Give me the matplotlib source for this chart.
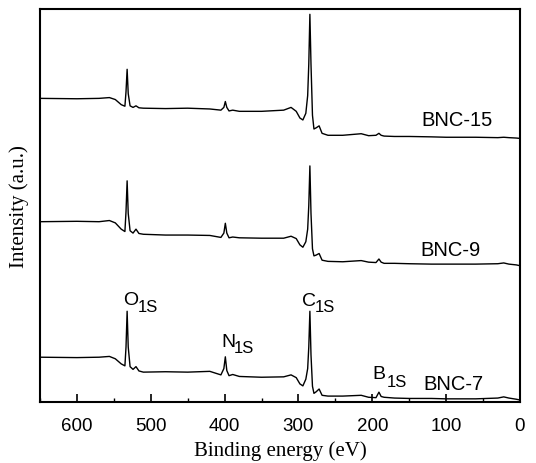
import matplotlib
matplotlib.use('Agg')
import matplotlib.pyplot as plt
from matplotlib.ticker import MultipleLocator

## Survey spectra (offset traces, arbitrary units)
energy = [650, 600, 570, 556, 548, 540, 535, 533.5, 532, 530.5, 528, 524, 520, 516, 510,
          480, 450, 420, 405, 401, 399, 397, 394, 389, 380, 350, 320, 310, 303, 298,
          294, 290, 287.5, 286, 284.5, 283, 281, 279, 276, 272, 268, 260, 240, 215, 205,
          195, 191, 188, 184, 170, 150, 120, 100, 60, 30, 22, 15, 5, 0]

bnc7 = [11.4, 11.3, 11.4, 11.6, 11.0, 9.7, 9.2, 14.0, 23.1, 14.0, 9.0, 8.3, 9.0, 7.9, 7.6,
        7.7, 7.6, 7.8, 6.9, 8.5, 11.5, 8.0, 6.7, 7.0, 6.5, 6.3, 6.4, 6.9, 6.2, 4.6,
        4.1, 5.8, 8.5, 14.0, 23.1, 12.0, 4.0, 2.2, 2.6, 3.3, 1.7, 1.5, 1.5, 1.7, 1.2,
        1.1, 2.5, 1.4, 1.2, 1.0, 0.9, 0.9, 0.8, 0.8, 1.0, 1.3, 1.0, 0.7, 0.5]

bnc9 = [45.9, 46.0, 45.9, 46.2, 45.6, 44.0, 43.4, 48.5, 56.3, 48.0, 43.6, 43.0, 44.0, 42.9, 42.7,
        42.5, 42.5, 42.4, 41.9, 43.0, 45.5, 43.0, 41.8, 42.0, 41.8, 41.7, 41.7, 42.2, 41.6, 40.0,
        39.4, 40.8, 44.0, 50.0, 60.1, 48.0, 39.0, 37.2, 37.4, 37.8, 36.1, 35.8, 35.7, 36.0, 35.6,
        35.5, 36.4, 35.6, 35.3, 35.3, 35.2, 35.1, 35.1, 35.1, 35.2, 35.4, 35.1, 34.9, 34.7]

bnc15 = [77.3, 77.2, 77.3, 77.5, 77.0, 75.7, 75.3, 79.0, 84.7, 78.5, 75.4, 75.0, 75.4, 74.9, 74.8,
         74.7, 74.8, 74.6, 74.3, 75.0, 76.5, 75.0, 74.1, 74.3, 74.0, 74.0, 74.3, 75.0, 74.0, 72.3,
         71.8, 73.5, 78.0, 86.0, 98.7, 86.0, 73.0, 69.5, 69.8, 70.3, 68.4, 67.9, 67.9, 68.3, 67.8,
         67.9, 68.4, 67.9, 67.7, 67.6, 67.6, 67.5, 67.4, 67.4, 67.3, 67.4, 67.3, 67.2, 67.1]

sample_names = ['BNC-15', 'BNC-9', 'BNC-7']
peak_elements = ['O', 'N', 'C', 'B']
peak_sub = '1S'

fig = plt.figure(figsize=(5.36, 4.64), dpi=100)
ax = fig.add_axes([0.0746, 0.1315, 0.8955, 0.8465])

for y in (bnc7, bnc9, bnc15):
    ax.plot(energy, y, color='black', lw=1.0)

ax.set_xlim(650, 0)
ax.set_ylim(0, 100)
ax.xaxis.set_major_locator(MultipleLocator(100))
ax.xaxis.set_minor_locator(MultipleLocator(50))
ax.set_yticks([])
ax.tick_params(axis='x', which='major', direction='in', length=5.5, width=1.2,
               labelsize=13.5, pad=10.5, top=False)
ax.tick_params(axis='x', which='minor', direction='in', length=3, width=1.0, top=False)
for lab in ax.get_xticklabels():
    lab.set_fontfamily('Liberation Sans')
for s in ax.spines.values():
    s.set_linewidth(1.5)

ax.set_xlabel('Binding energy (eV)', fontfamily='Liberation Serif', fontsize=15, labelpad=5)
ax.set_ylabel('Intensity (a.u.)', fontfamily='Liberation Serif', fontsize=15, labelpad=8)

# sample names
name_pos = [(134, 70.4), (135, 37.4), (131, 3.3)]
for name, (x, y) in zip(sample_names, name_pos):
    ax.text(x, y, name, fontfamily='Liberation Sans', fontsize=14.5, ha='left', va='baseline')

# peak labels: element letter + lowered subscript
elem_pos = [(537.6, 24.9), (404.9, 14.3), (295.2, 24.8), (200.4, 6.1)]
sub_pos = [(518.0, 23.2), (388.0, 12.7), (278.3, 23.2), (180.8, 4.1)]
for el, (x, y), (sx, sy) in zip(peak_elements, elem_pos, sub_pos):
    ax.text(x, y, el, fontfamily='Liberation Sans', fontsize=14, ha='left', va='baseline')
    ax.text(sx, sy, peak_sub, fontfamily='Liberation Sans', fontsize=12, ha='left', va='baseline')

fig.savefig('out.png', dpi=100)
